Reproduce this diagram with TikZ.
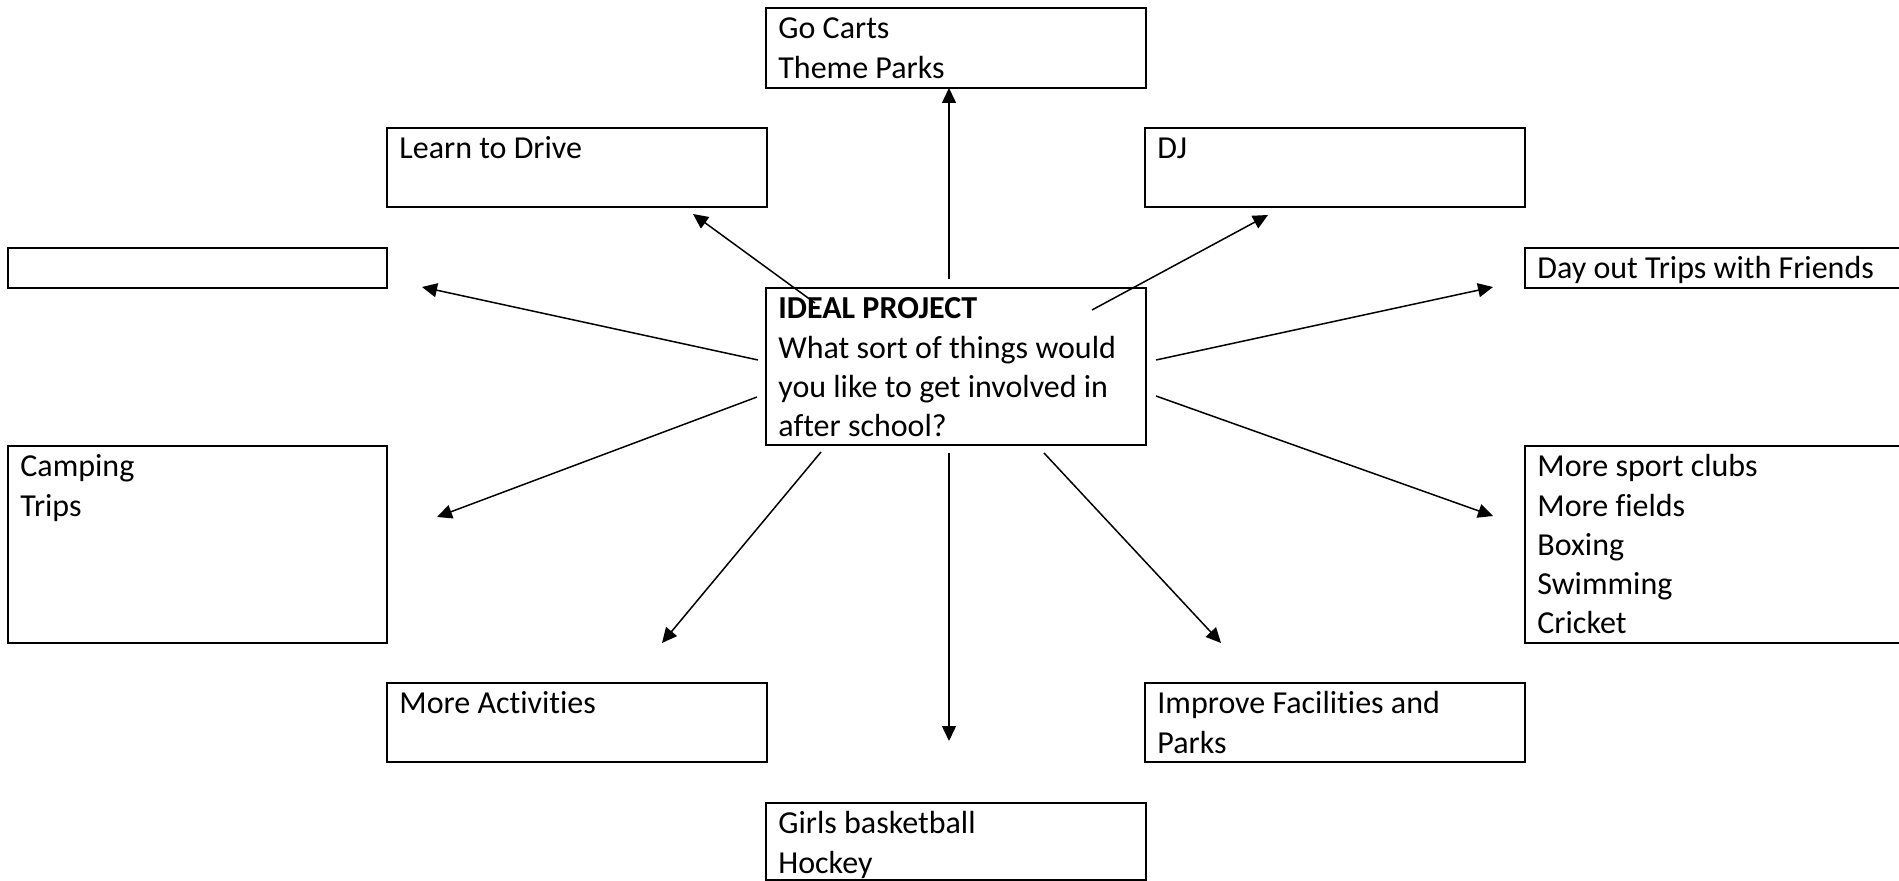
\documentclass[tikz,border=0pt]{standalone}
\usepackage{fontspec}
\setmainfont{Carlito}[Ligatures=NoCommon]
\usetikzlibrary{arrows.meta}

\newcommand{\ideafont}{\fontsize{16pt}{19.6pt}\selectfont}

\tikzset{
  idea/.style={draw, line width=1.15pt, rectangle, inner sep=0pt, anchor=north west},
  idea text/.style={anchor=north west, inner sep=0pt, text width=180pt,
    align=flush left, font=\ideafont, execute at begin node=\strut},
  link/.style={line width=0.75pt, -{Triangle[length=7.5pt, width=7pt]}},
}

\begin{document}
\begin{tikzpicture}[x=0.5pt, y=-0.5pt]
  \useasboundingbox (0,0) rectangle (1899,881);
  % boxes
  \node[idea, minimum width=190pt, minimum height=40pt] (carts) at (765,7) {};
  \node[idea, minimum width=190pt, minimum height=39.5pt] (drive) at (386,127) {};
  \node[idea, minimum width=190pt, minimum height=39.5pt] (dj) at (1144,127) {};
  \node[idea, minimum width=189.5pt, minimum height=20pt] (blank) at (7,247) {};
  \node[idea, minimum width=190pt, minimum height=20pt] (friends) at (1524,247) {};
  \node[idea, minimum width=190pt, minimum height=78.5pt] (ideal) at (765,287) {};
  \node[idea, minimum width=189.5pt, minimum height=98.5pt] (camping) at (7,445) {};
  \node[idea, minimum width=190pt, minimum height=98.5pt] (sport) at (1524,445) {};
  \node[idea, minimum width=190pt, minimum height=39.5pt] (activities) at (386,682) {};
  \node[idea, minimum width=190pt, minimum height=39.5pt] (facilities) at (1144,682) {};
  \node[idea, minimum width=190pt, minimum height=38.5pt] (girls) at (765,802) {};
  % texts
  \node[idea text] (carts-t) at ([shift={(13,4)}]carts.north west) {Go Carts\\Theme Parks};
  \node[idea text] (drive-t) at ([shift={(13,4)}]drive.north west) {Learn to Drive};
  \node[idea text] (dj-t) at ([shift={(13,4)}]dj.north west) {DJ};
  \node[idea text] (friends-t) at ([shift={(13,4)}]friends.north west) {Day out Trips with Friends};
  \node[idea text] (ideal-t) at ([shift={(13,4)}]ideal.north west)
    {\textbf{IDEAL PROJECT}\\What sort of things would\\you like to get involved in\\after school?};
  \node[idea text] (camping-t) at ([shift={(13,4)}]camping.north west) {Camping\\Trips};
  \node[idea text] (sport-t) at ([shift={(13,4)}]sport.north west)
    {More sport clubs\\More fields\\Boxing\\Swimming\\Cricket};
  \node[idea text] (activities-t) at ([shift={(13,4)}]activities.north west) {More Activities};
  \node[idea text] (facilities-t) at ([shift={(13,4)}]facilities.north west) {Improve Facilities and\\Parks};
  \node[idea text] (girls-t) at ([shift={(13,4)}]girls.north west) {Girls basketball\\Hockey};
  % arrow ends
  \coordinate (up-a) at (949,279);          \coordinate (up-b) at (949,88);
  \coordinate (drive-a) at (815,303);       \coordinate (drive-b) at (693,214);
  \coordinate (dj-a) at (1092,310);         \coordinate (dj-b) at (1268,215);
  \coordinate (blank-a) at (758,360);       \coordinate (blank-b) at (422,287);
  \coordinate (friends-a) at (1156,360);    \coordinate (friends-b) at (1493,287);
  \coordinate (camping-a) at (757,397);     \coordinate (camping-b) at (437,517);
  \coordinate (sport-a) at (1156,396);      \coordinate (sport-b) at (1493,516);
  \coordinate (activities-a) at (821,452);  \coordinate (activities-b) at (662,643);
  \coordinate (down-a) at (949,453);        \coordinate (down-b) at (949,741);
  \coordinate (facilities-a) at (1044,453); \coordinate (facilities-b) at (1221,643);
  \foreach \n in {up,drive,dj,blank,friends,camping,sport,activities,down,facilities}
    \draw[link] (\n-a) -- (\n-b);
\end{tikzpicture}
\end{document}
